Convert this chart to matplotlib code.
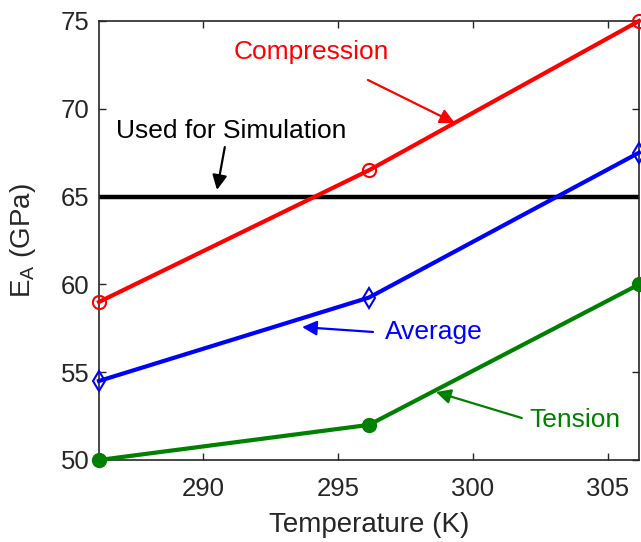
import matplotlib.pyplot as plt

plt.rcParams['font.family'] = ['Liberation Sans', 'DejaVu Sans']
plt.rcParams['mathtext.fontset'] = 'custom'
plt.rcParams['mathtext.rm'] = 'Liberation Sans'

# temperatures (K) and elastic modulus (GPa)
temps = [286.15, 296.15, 306.15]
compression = [59.0, 66.5, 75.0]
average = [54.5, 59.25, 67.5]
tension = [50.0, 52.0, 60.0]
sim_value = 65.0

red = (1, 0, 0)
blue = (0, 0, 1)
green = (0, 0.5, 0)
axis_col = (0.15, 0.15, 0.15)

fig = plt.figure(figsize=(6.41, 5.42), dpi=100)
ax = fig.add_axes([0.1544, 0.1513, 0.8425, 0.81])

ax.axhline(sim_value, color='k', lw=3.2, zorder=2)
ax.plot(temps, compression, color=red, lw=3, marker='o', ms=9.5,
        mfc='none', mew=1.5, clip_on=False, zorder=3)
ax.plot(temps, average, color=blue, lw=3, marker='d', ms=10.5,
        mfc='none', mew=1.5, clip_on=False, zorder=3)
ax.plot(temps, tension, color=green, lw=3, marker='o', ms=10,
        mfc=green, mec=green, clip_on=False, zorder=3)

ax.set_xlim(286.15, 306.15)
ax.set_ylim(50, 75)
ax.set_xticks([290, 295, 300, 305])
ax.set_yticks([50, 55, 60, 65, 70, 75])
ax.tick_params(direction='in', top=True, right=True, length=5, width=1,
               labelsize=18.5, colors=axis_col)
ax.tick_params(axis='x', pad=12)
ax.tick_params(axis='y', pad=7)
for s in ax.spines.values():
    s.set_color(axis_col)
    s.set_linewidth(1.2)

ax.set_xlabel('Temperature (K)', fontsize=20, color=axis_col, labelpad=8)
ax.set_ylabel(r'E$_\mathregular{A}$ (GPa)', fontsize=20, color=axis_col, labelpad=16)

def note(text, pos, tip, tail, col):
    ax.text(pos[0], pos[1], text, fontsize=19, color=col,
            ha='center', va='center')
    ax.annotate('', xy=tip, xytext=tail,
                arrowprops=dict(arrowstyle='-|>', color=col, lw=1.6,
                                mutation_scale=22, shrinkA=0, shrinkB=0))

note('Used for Simulation', (291.04, 68.74), (290.52, 65.38), (290.81, 67.82), 'k')
note('Compression', (294.0, 73.25), (299.33, 69.19), (296.11, 71.64), red)
note('Average', (298.56, 57.3), (293.67, 57.57), (296.3, 57.29), blue)
note('Tension', (303.78, 52.3), (298.63, 53.87), (301.81, 52.39), green)

fig.savefig('out.png', dpi=100)
